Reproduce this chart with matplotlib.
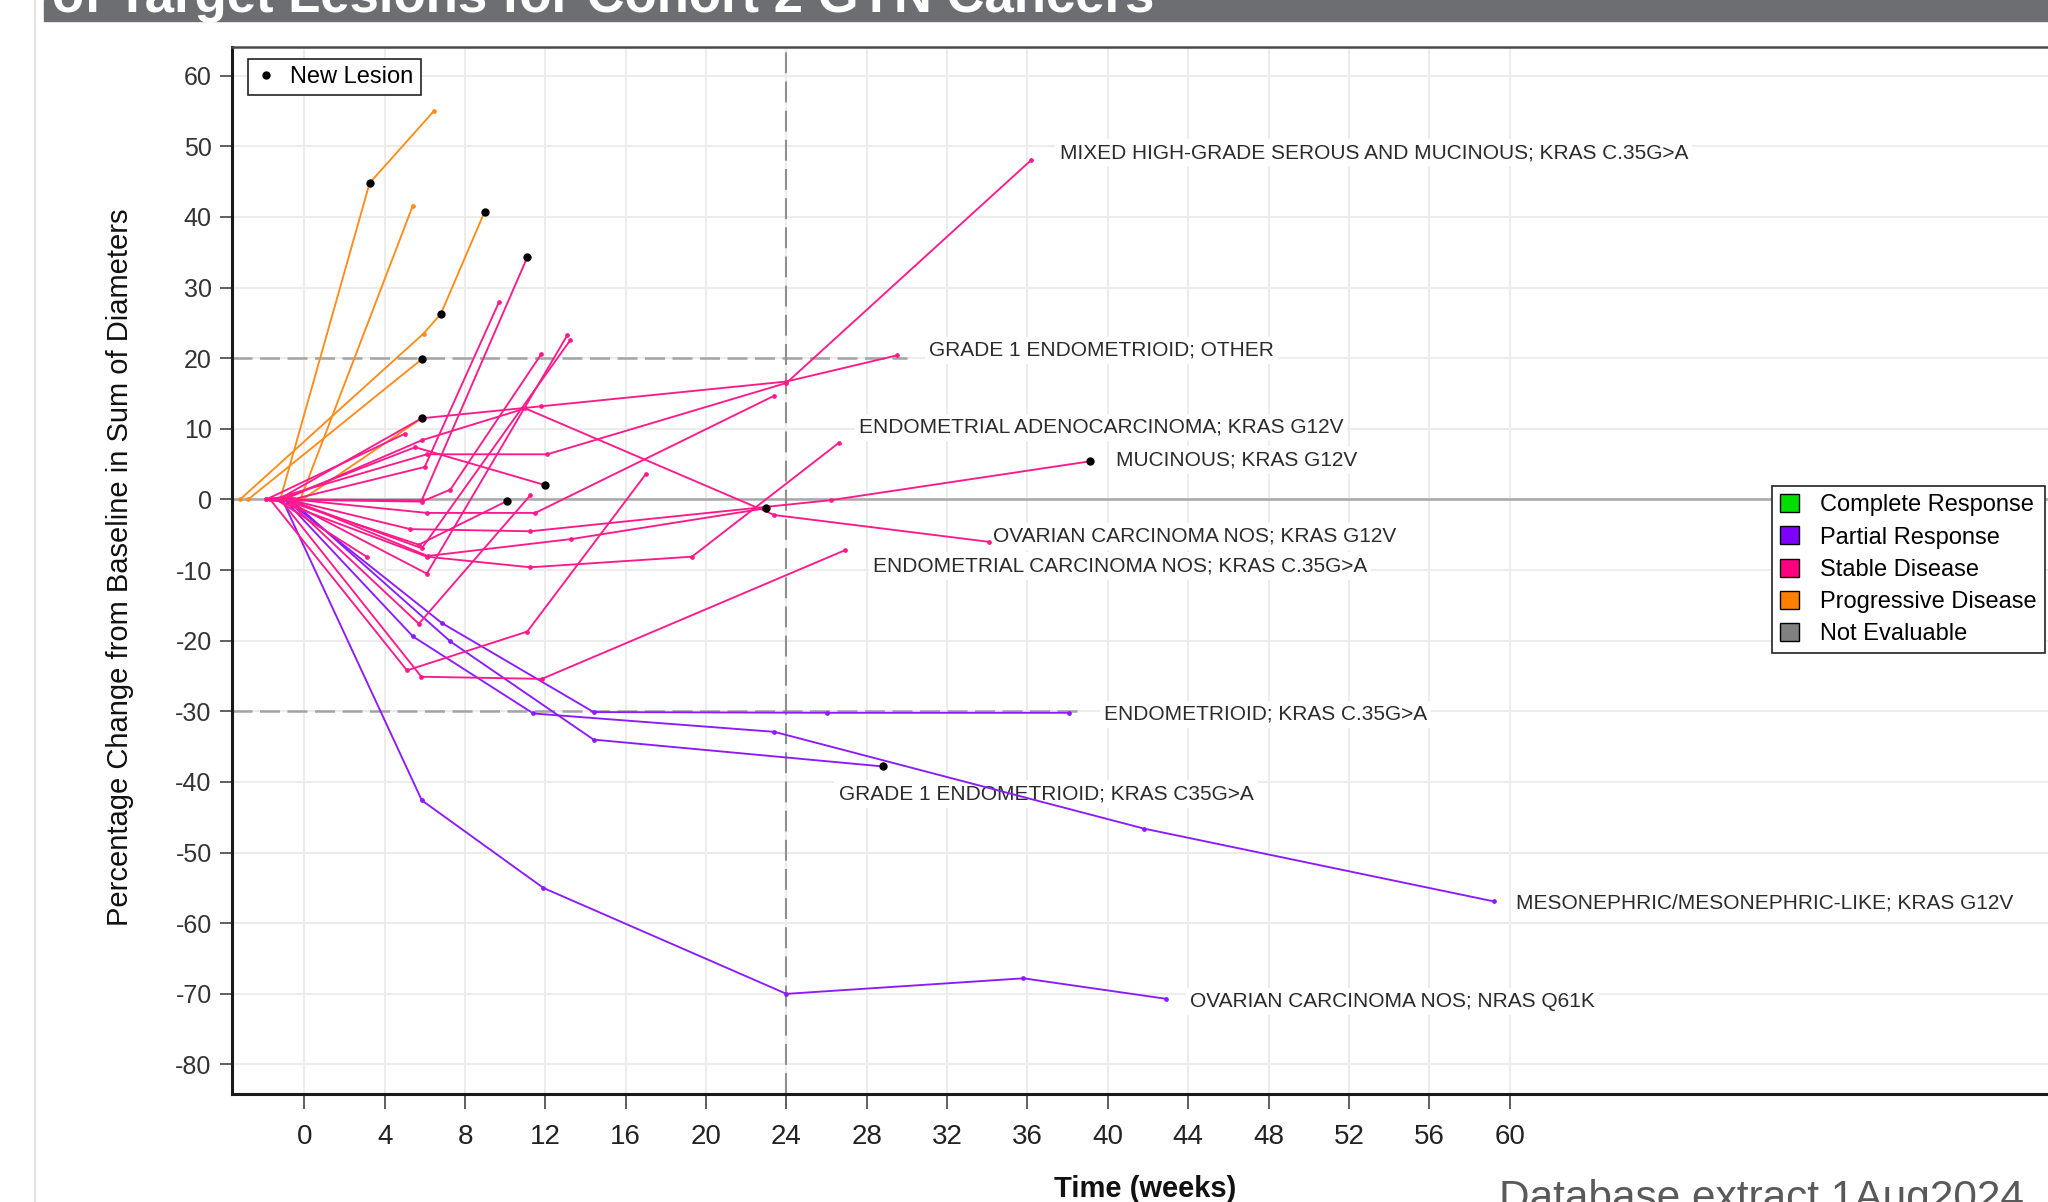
import matplotlib
matplotlib.use("Agg")
import matplotlib.pyplot as plt
from matplotlib.patches import Patch, Rectangle
from matplotlib.lines import Line2D

plt.rcParams["axes.unicode_minus"] = False

# Response categories for the legend
response_names = ["Complete Response", "Partial Response", "Stable Disease",
                  "Progressive Disease", "Not Evaluable"]
response_colors = ["#00e000", "#8000ff", "#ff0080", "#ff8000", "#808080"]
line_colors = {"PR": "#8c1aff", "SD": "#ff1a8c", "PD": "#ff8c1a"}

# One entry per patient: best response, visit weeks, % change, weeks with a new lesion
patient_response = ["PD", "PD", "PD", "PD", "PD",
                    "PR", "PR", "PR", "PR",
                    "SD", "SD", "SD", "SD", "SD", "SD", "SD", "SD", "SD", "SD",
                    "SD", "SD", "SD", "SD", "SD", "SD", "SD", "SD", "SD"]
patient_weeks = [
    [-1.2, 3.25, 6.45],
    [-0.2, 5.4],
    [-3.2, 5.94, 6.8, 8.97],
    [-2.8, 5.84],
    [-0.1, 5.84],
    [-1.1, 5.85, 11.9, 24.0, 35.8, 42.9],
    [-0.9, 6.85, 14.4, 26.0, 38.05],
    [-1.0, 5.41, 11.4, 23.4, 41.8, 59.2],
    [-0.7, 7.27, 14.4, 28.8],
    [-1.6, 6.1, 12.1, 24.0, 36.2],
    [-1.3, 5.84, 11.8, 24.0, 29.5],
    [-1.0, 5.86, 11.0, 23.4, 34.1],
    [-0.8, 5.28, 11.25, 26.2, 39.1],
    [-1.5, 6.1, 11.25, 19.3, 26.6],
    [-1.2, 5.83, 11.83, 26.9],
    [-1.7, 5.11, 11.1, 17.0],
    [-0.9, 5.7, 11.25],
    [-1.1, 5.7, 10.1],
    [-1.4, 5.85, 11.1],
    [-0.6, 5.99, 9.7],
    [-1.2, 5.52, 11.97],
    [-0.5, 6.1, 11.5, 23.4],
    [-1.0, 6.1, 13.1],
    [-0.8, 5.85, 13.25],
    [-1.9, 5.85, 7.27, 11.8],
    [-1.4, 3.1],
    [-1.9, 5.0],
    [-0.7, 6.14, 13.3, 22.97],
]
patient_change = [
    [0, 44.8, 55.0],
    [0, 41.6],
    [0, 23.5, 26.3, 40.7],
    [0, 19.85],
    [0, 11.5],
    [0, -42.6, -55.0, -70.0, -67.8, -70.7],
    [0, -17.5, -30.1, -30.2, -30.2],
    [0, -19.4, -30.3, -32.9, -46.6, -56.9],
    [0, -20.1, -34.0, -37.8],
    [0, 6.4, 6.4, 16.5, 48.1],
    [0, 11.5, 13.2, 16.7, 20.4],
    [0, 8.4, 12.9, -2.2, -6.0],
    [0, -4.2, -4.5, -0.1, 5.4],
    [0, -8.1, -9.6, -8.1, 8.0],
    [0, -25.1, -25.4, -7.2],
    [0, -24.2, -18.7, 3.6],
    [0, -17.6, 0.6],
    [0, -6.4, -0.2],
    [0, -0.1, 34.3],
    [0, 4.6, 28.0],
    [0, 7.4, 2.05],
    [0, -1.9, -1.9, 14.7],
    [0, -10.5, 23.3],
    [0, -6.9, 22.6],
    [0, -0.3, 1.4, 20.6],
    [0, -8.1],
    [0, 9.3],
    [0, -8.0, -5.6, -1.25],
]
patient_new_lesion = [
    [3.25], [], [6.8, 8.97], [5.84], [],
    [], [], [], [28.8],
    [], [5.84], [], [39.1], [], [], [], [], [10.1], [11.1], [], [11.97],
    [], [], [], [], [], [], [22.97],
]

# Tumour type labels at the end of some lines
label_patient = [9, 10, 13, 12, 11, 14, 6, 8, 7, 5]
label_text = [
    "MIXED HIGH-GRADE SEROUS AND MUCINOUS; KRAS C.35G>A",
    "GRADE 1 ENDOMETRIOID; OTHER",
    "ENDOMETRIAL ADENOCARCINOMA; KRAS G12V",
    "MUCINOUS; KRAS G12V",
    "OVARIAN CARCINOMA NOS; KRAS G12V",
    "ENDOMETRIAL CARCINOMA NOS; KRAS C.35G>A",
    "ENDOMETRIOID; KRAS C.35G>A",
    "GRADE 1 ENDOMETRIOID; KRAS C35G>A",
    "MESONEPHRIC/MESONEPHRIC-LIKE; KRAS G12V",
    "OVARIAN CARCINOMA NOS; NRAS Q61K",
]
# offset of each label from the last point (weeks, %)
label_offsets = [(1.4, 1.0), (1.6, 0.7), (1.0, 2.2), (1.3, 0.2), (0.2, 0.8),
                 (1.4, -2.2), (1.75, -0.2), (-2.2, -3.9), (1.1, -0.3), (1.2, -0.4)]

x_ticks = list(range(0, 61, 4))
y_ticks = list(range(-80, 61, 10))

narrow = ["Liberation Sans Narrow", "Liberation Sans", "DejaVu Sans"]
regular = ["Liberation Sans", "DejaVu Sans"]

fig = plt.figure(figsize=(20.48, 12.02), dpi=100)

# Slide decorations: title banner (cut off at the top) and left border
fig.patches.append(Rectangle((44 / 2048, 1 - 21 / 1202), 1, 21 / 1202,
                             transform=fig.transFigure, color="#6d6e71", zorder=0))
fig.text(52 / 2048, 1 - 12 / 1202, "of Target Lesions for Cohort 2 GYN Cancers",
         color="white", fontsize=38, fontweight="bold", family=regular, va="baseline")
fig.add_artist(Line2D([35 / 2048, 35 / 2048], [0, 1], transform=fig.transFigure,
                      color="#e4e4e4", lw=1.5))

ax = fig.add_axes([232 / 2048, 1 - 1094 / 1202, (2060 - 232) / 2048, (1094 - 47) / 1202])
ax.set_xlim(-3.6, 87.4)
ax.set_ylim(-84.18, 64.07)

ax.set_xticks(x_ticks)
ax.set_yticks(y_ticks)
ax.set_yticklabels([str(v) for v in y_ticks], family=regular, fontsize=18, color="#333333")
ax.set_xticklabels([str(v) for v in x_ticks], family=narrow, fontsize=20, color="#222222")
ax.tick_params(axis="y", direction="out", length=8.6, width=1.2, color="#444444", pad=6)
ax.tick_params(axis="x", direction="out", length=10.8, width=1.2, color="#444444", pad=11)
ax.grid(True, color="#ececec", lw=1.4, zorder=0)
ax.set_axisbelow(True)

for side in ["left", "bottom"]:
    ax.spines[side].set_linewidth(2.2)
    ax.spines[side].set_color("#1a1a1a")
ax.spines["top"].set_linewidth(1.8)
ax.spines["top"].set_color("#4a4a4a")
ax.spines["right"].set_visible(False)

# Reference lines
ax.axhline(0, color="#a8a8a8", lw=1.8, zorder=1)
ax.plot([-3.6, 30], [20, 20], color="#a3a3a3", lw=1.8, dashes=[8, 3], zorder=1)
ax.plot([-3.6, 38.5], [-30, -30], color="#a3a3a3", lw=1.8, dashes=[8, 3], zorder=1)
ax.axvline(24, color="#8f8f8f", lw=1.5, dashes=[10, 4], zorder=1)

# Spider lines
for resp, wk, ch, nl in zip(patient_response, patient_weeks, patient_change, patient_new_lesion):
    ax.plot(wk, ch, color=line_colors[resp], lw=1.35, marker="o", ms=2.4, zorder=3)
    for w in nl:
        ax.plot(w, ch[wk.index(w)], "o", color="black", ms=5, zorder=4)

# Labels with white boxes
for idx, txt, (dx, dy) in zip(label_patient, label_text, label_offsets):
    ax.text(patient_weeks[idx][-1] + dx, patient_change[idx][-1] + dy, txt,
            fontsize=15, family=regular, color="#2b2b2b", va="center", ha="left",
            bbox=dict(facecolor="white", edgecolor="none", pad=3), zorder=2.5)

# Legends
nl_handle = Line2D([], [], marker="o", color="black", ls="none", ms=5)
leg1 = ax.legend([nl_handle], ["New Lesion"], loc="upper left",
                 bbox_to_anchor=(248 / 2048, 1 - 59 / 1202), bbox_transform=fig.transFigure,
                 borderaxespad=0, fancybox=False, framealpha=1, edgecolor="#222222",
                 prop={"family": regular, "size": 17}, handlelength=0.9, handletextpad=0.6,
                 borderpad=0.3)
leg1.get_frame().set_linewidth(1.2)
ax.add_artist(leg1)

resp_handles = [Patch(facecolor=c, edgecolor="black", lw=1) for c in response_colors]
leg2 = ax.legend(resp_handles, response_names, loc="upper left",
                 bbox_to_anchor=(1772 / 2048, 1 - 486 / 1202), bbox_transform=fig.transFigure,
                 borderaxespad=0, fancybox=False, framealpha=1, edgecolor="#222222",
                 prop={"family": regular, "size": 17}, handlelength=0.8, handleheight=0.8,
                 handletextpad=0.9, labelspacing=0.42, borderpad=0.35)
leg2.get_frame().set_linewidth(1.2)

# Axis titles
fig.text(120 / 2048, 1 - 567 / 1202, "Percentage Change from Baseline in Sum of Diameters",
         rotation=90, ha="center", va="center", fontsize=21, family=regular, color="#111111")
fig.text(1145 / 2048, 1 - 1197 / 1202, "Time (weeks)", ha="center", va="baseline",
         fontsize=21, fontweight="bold", family=regular, color="#111111")
fig.text(1499 / 2048, 1 - 1210 / 1202, "Database extract 1Aug2024", ha="left", va="baseline",
         fontsize=30.5, family=regular, color="#595959")

fig.savefig("out.png", dpi=100)
